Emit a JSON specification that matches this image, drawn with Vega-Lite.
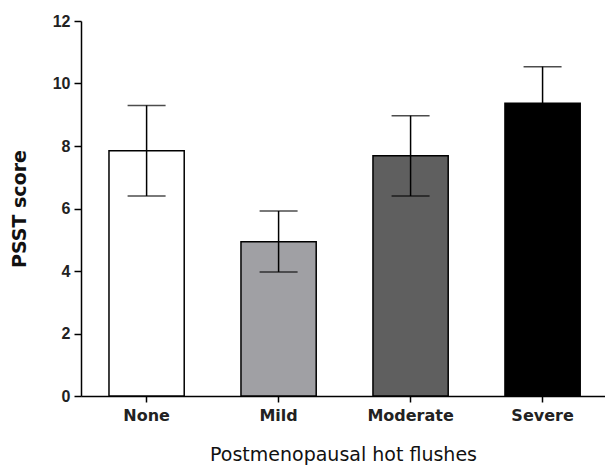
{
  "$schema": "https://vega.github.io/schema/vega-lite/v6.json",
  "width": 524,
  "height": 375,
  "autosize": {"type": "none"},
  "padding": {"left": 81, "top": 21, "right": 0, "bottom": 70},
  "background": "white",
  "config": {
    "view": {"stroke": null},
    "axis": {
      "domainColor": "black",
      "domainWidth": 1.5,
      "tickColor": "black",
      "tickWidth": 1.5,
      "grid": false,
      "labelColor": "#222222",
      "titleColor": "#111111"
    }
  },
  "data": {
    "values": [
      {"group": "None", "mean": 7.85, "lo": 6.4, "hi": 9.3},
      {"group": "Mild", "mean": 4.94, "lo": 3.97, "hi": 5.92},
      {"group": "Moderate", "mean": 7.69, "lo": 6.4, "hi": 8.97},
      {"group": "Severe", "mean": 9.37, "lo": 8.2, "hi": 10.54}
    ]
  },
  "encoding": {
    "x": {
      "field": "group",
      "type": "nominal",
      "sort": null,
      "scale": {"paddingInner": 0.43, "paddingOuter": 0.2, "align": 0.53},
      "axis": {
        "title": "Postmenopausal hot flushes",
        "labelAngle": 0,
        "labelFont": "DejaVu Sans",
        "labelFontWeight": "bold",
        "labelFontSize": 16,
        "labelPadding": 5,
        "tickSize": 6,
        "titleFont": "DejaVu Sans",
        "titleFontWeight": "normal",
        "titleFontSize": 19,
        "titlePadding": 22
      }
    }
  },
  "layer": [
    {
      "mark": {"type": "bar", "stroke": "black", "strokeWidth": 1.5},
      "encoding": {
        "y": {
          "field": "mean",
          "type": "quantitative",
          "scale": {"domain": [0, 12], "nice": false},
          "axis": {
            "title": "PSST score",
            "values": [0, 2, 4, 6, 8, 10, 12],
            "labelFont": "Liberation Sans",
            "labelFontWeight": "bold",
            "labelFontSize": 16,
            "labelPadding": 4,
            "tickSize": 7,
            "titleFont": "DejaVu Sans",
            "titleFontWeight": "bold",
            "titleFontSize": 19,
            "titlePadding": 23
          }
        },
        "fill": {
          "field": "group",
          "type": "nominal",
          "scale": {
            "domain": ["None", "Mild", "Moderate", "Severe"],
            "range": ["#ffffff", "#a0a0a4", "#5f5f5f", "#000000"]
          },
          "legend": null
        }
      }
    },
    {
      "mark": {"type": "rule", "color": "black", "strokeWidth": 1.5},
      "encoding": {
        "y": {"field": "lo", "type": "quantitative"},
        "y2": {"field": "hi"}
      }
    },
    {
      "mark": {"type": "tick", "color": "black", "thickness": 1.5, "size": 38},
      "encoding": {
        "y": {"field": "hi", "type": "quantitative"}
      }
    },
    {
      "mark": {"type": "tick", "color": "black", "thickness": 1.5, "size": 38},
      "encoding": {
        "y": {"field": "lo", "type": "quantitative"}
      }
    }
  ]
}
